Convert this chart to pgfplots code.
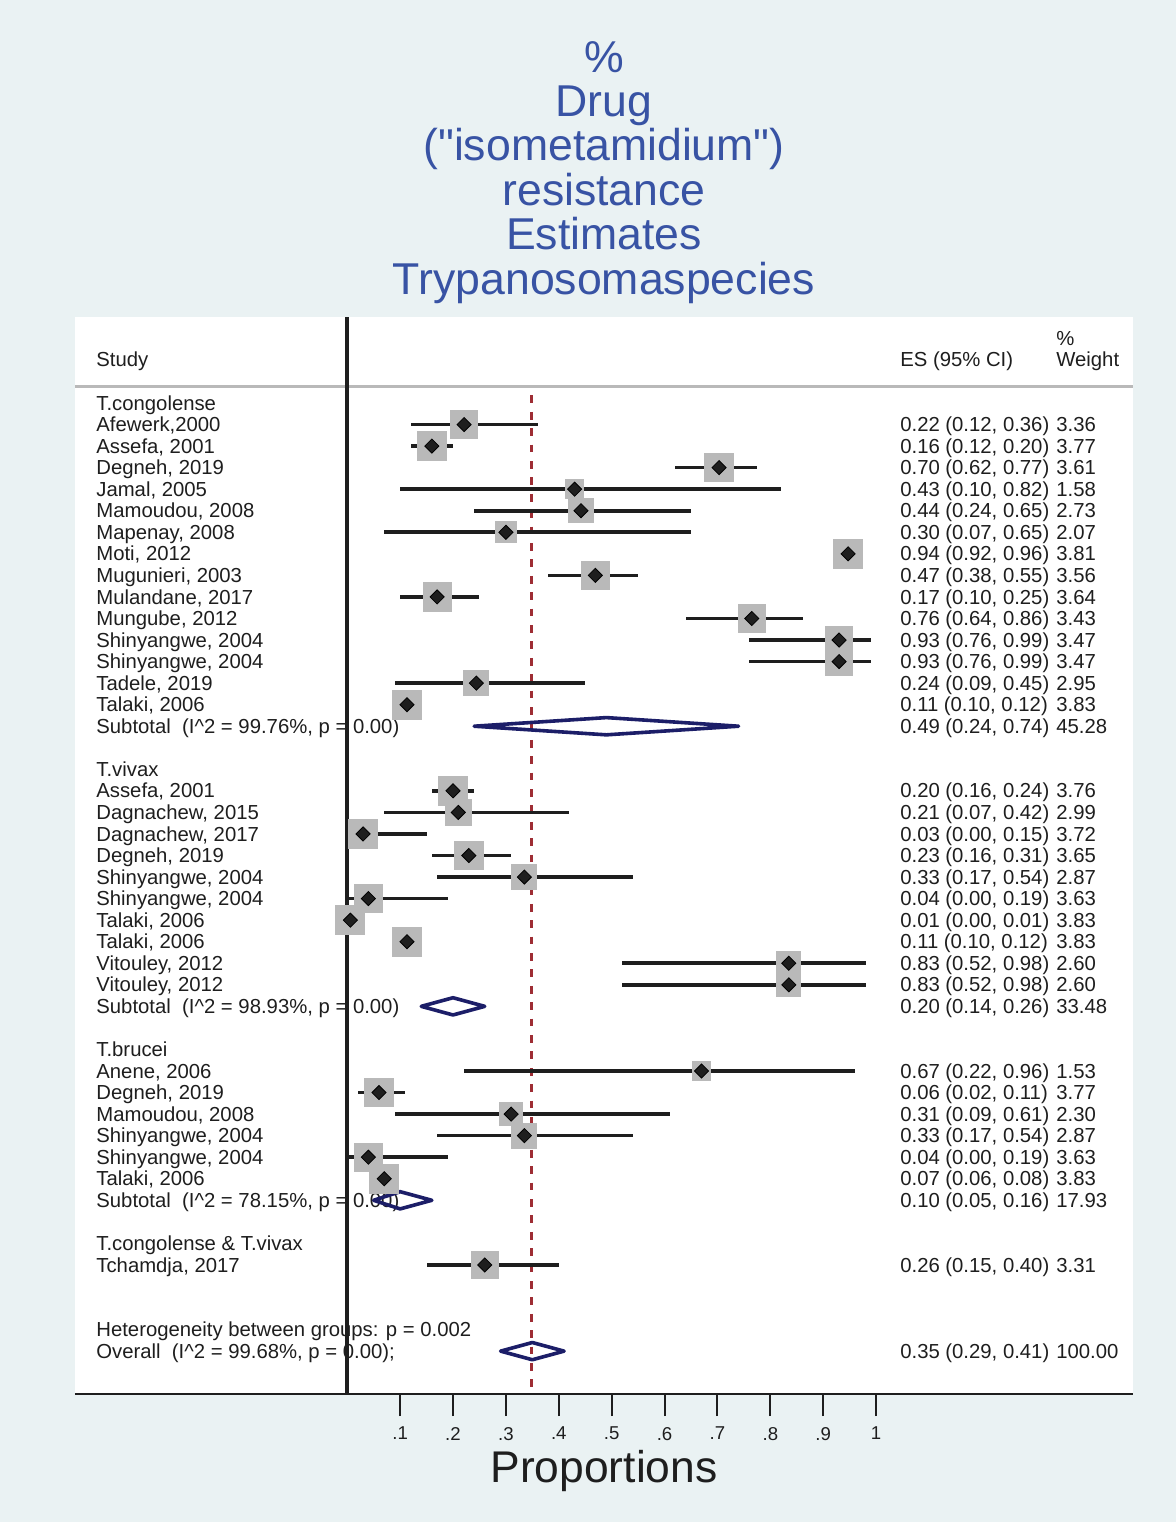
\documentclass[border=0pt]{standalone}
\usepackage{fontspec}
\setmainfont{Liberation Sans}
\usepackage{pgfplots}
\pgfplotsset{compat=1.18}
\usepackage{pgfplotstable}

\definecolor{bgc}{RGB}{234,242,243}
\definecolor{titleblue}{RGB}{56,83,164}
\definecolor{navyd}{RGB}{28,30,104}
\definecolor{redd}{RGB}{158,45,52}
\definecolor{boxg}{RGB}{185,185,185}
\definecolor{hdrg}{RGB}{185,185,185}
\definecolor{ink}{RGB}{30,30,30}

\newcommand\rowfont{\fontsize{10.15}{12}\selectfont}
\newcommand\tickfont{\fontsize{9.3}{10}\selectfont}
\newcommand\titlefont{\fontsize{22.3}{22.3}\selectfont\addfontfeature{Ligatures=TeXOff}}

\tikzset{lbl/.style={anchor=base west, inner sep=0pt, font=\rowfont, text=ink}}

\newcommand\row[4]{%
 \node[lbl] at (axis cs:-0.475,{-(#1)-0.33}) {#2};
 \node[lbl] at (axis cs:1.045,{-(#1)-0.33}) {#3};
 \node[lbl] at (axis cs:1.340,{-(#1)-0.33}) {#4};}

% study-level estimates: row position (negative), ES, lower CI, upper CI, % weight
\pgfplotstableread{
y es lo hi w
-1 0.221 0.12 0.36 3.36
-2 0.16 0.12 0.20 3.77
-3 0.703 0.62 0.775 3.61
-4 0.43 0.10 0.82 1.58
-5 0.442 0.24 0.65 2.73
-6 0.30 0.07 0.65 2.07
-7 0.947 0.92 0.96 3.81
-8 0.469 0.38 0.55 3.56
-9 0.17 0.10 0.25 3.64
-10 0.765 0.64 0.862 3.43
-11 0.93 0.76 0.99 3.47
-12 0.93 0.76 0.99 3.47
-13 0.244 0.09 0.45 2.95
-14 0.113 0.10 0.12 3.83
-18 0.20 0.16 0.24 3.76
-19 0.21 0.07 0.42 2.99
-20 0.03 0.00 0.15 3.72
-21 0.23 0.16 0.31 3.65
-22 0.335 0.17 0.54 2.87
-23 0.04 0.00 0.19 3.63
-24 0.006 0.00 0.01 3.83
-25 0.113 0.10 0.12 3.83
-26 0.835 0.52 0.98 2.60
-27 0.835 0.52 0.98 2.60
-31 0.67 0.22 0.96 1.53
-32 0.06 0.02 0.11 3.77
-33 0.31 0.09 0.61 2.30
-34 0.335 0.17 0.54 2.87
-35 0.04 0.00 0.19 3.63
-36 0.07 0.06 0.08 3.83
-40 0.26 0.15 0.40 3.31
}\studies

\begin{document}
\begin{tikzpicture}
\fill[bgc] (0,0) rectangle (588pt,-761pt);
\useasboundingbox (0,0) rectangle (588pt,-761pt);
\fill[white] (37.5pt,-158.5pt) rectangle (566.5pt,-697pt);

\node[anchor=base, font=\titlefont, text=titleblue, inner sep=0pt] at (302pt,-36pt) {\%};
\node[anchor=base, font=\titlefont, text=titleblue, inner sep=0pt] at (302pt,-58.2pt) {Drug};
\node[anchor=base, font=\titlefont, text=titleblue, inner sep=0pt] at (302pt,-80.4pt) {("isometamidium")};
\node[anchor=base, font=\titlefont, text=titleblue, inner sep=0pt] at (302pt,-102.6pt) {resistance};
\node[anchor=base, font=\titlefont, text=titleblue, inner sep=0pt] at (302pt,-124.8pt) {Estimates};
\node[anchor=base, font=\titlefont, text=titleblue, inner sep=0pt] at (302pt,-147pt) {Trypanosomaspecies};

\begin{axis}[
  at={(37.5pt,-697pt)}, anchor=south west,
  scale only axis, width=529pt, height=538.5pt,
  xmin=-0.5147, xmax=1.4857, ymin=-45.99, ymax=3.99,
  axis x line=bottom, axis y line=none,
  axis line style={-, draw=ink, line width=1.3pt},
  xtick={0.1,0.2,0.3,0.4,0.5,0.6,0.7,0.8,0.9,1},
  xticklabels={.1,.2,.3,.4,.5,.6,.7,.8,.9,1},
  tick align=outside, major tick length=11pt,
  tick style={draw=ink, line width=1pt},
  xticklabel style={font=\tickfont, text=ink, yshift=-2pt},
  ytick=\empty,
  clip=false,
  xlabel={Proportions},
  xlabel style={at={(axis description cs:0.5,0)}, anchor=base, yshift=-44pt, font=\fontsize{22.2}{22.2}\selectfont, text=ink},
]
% header
\row{-3}{}{}{\%}
\row{-2}{Study}{ES (95\% CI)}{Weight}
\addplot[draw=hdrg, line width=1.4pt] coordinates {(-0.5147,0.756) (1.4857,0.756)};

% T.congolense
\row{0}{T.congolense}{}{}
\row{1}{Afewerk,2000}{0.22 (0.12, 0.36)}{3.36}
\row{2}{Assefa, 2001}{0.16 (0.12, 0.20)}{3.77}
\row{3}{Degneh, 2019}{0.70 (0.62, 0.77)}{3.61}
\row{4}{Jamal, 2005}{0.43 (0.10, 0.82)}{1.58}
\row{5}{Mamoudou, 2008}{0.44 (0.24, 0.65)}{2.73}
\row{6}{Mapenay, 2008}{0.30 (0.07, 0.65)}{2.07}
\row{7}{Moti, 2012}{0.94 (0.92, 0.96)}{3.81}
\row{8}{Mugunieri, 2003}{0.47 (0.38, 0.55)}{3.56}
\row{9}{Mulandane, 2017}{0.17 (0.10, 0.25)}{3.64}
\row{10}{Mungube, 2012}{0.76 (0.64, 0.86)}{3.43}
\row{11}{Shinyangwe, 2004}{0.93 (0.76, 0.99)}{3.47}
\row{12}{Shinyangwe, 2004}{0.93 (0.76, 0.99)}{3.47}
\row{13}{Tadele, 2019}{0.24 (0.09, 0.45)}{2.95}
\row{14}{Talaki, 2006}{0.11 (0.10, 0.12)}{3.83}
\row{15}{Subtotal\ \ (I\textasciicircum2 = 99.76\%, p = 0.00)}{0.49 (0.24, 0.74)}{45.28}
% T.vivax
\row{17}{T.vivax}{}{}
\row{18}{Assefa, 2001}{0.20 (0.16, 0.24)}{3.76}
\row{19}{Dagnachew, 2015}{0.21 (0.07, 0.42)}{2.99}
\row{20}{Dagnachew, 2017}{0.03 (0.00, 0.15)}{3.72}
\row{21}{Degneh, 2019}{0.23 (0.16, 0.31)}{3.65}
\row{22}{Shinyangwe, 2004}{0.33 (0.17, 0.54)}{2.87}
\row{23}{Shinyangwe, 2004}{0.04 (0.00, 0.19)}{3.63}
\row{24}{Talaki, 2006}{0.01 (0.00, 0.01)}{3.83}
\row{25}{Talaki, 2006}{0.11 (0.10, 0.12)}{3.83}
\row{26}{Vitouley, 2012}{0.83 (0.52, 0.98)}{2.60}
\row{27}{Vitouley, 2012}{0.83 (0.52, 0.98)}{2.60}
\row{28}{Subtotal\ \ (I\textasciicircum2 = 98.93\%, p = 0.00)}{0.20 (0.14, 0.26)}{33.48}
% T.brucei
\row{30}{T.brucei}{}{}
\row{31}{Anene, 2006}{0.67 (0.22, 0.96)}{1.53}
\row{32}{Degneh, 2019}{0.06 (0.02, 0.11)}{3.77}
\row{33}{Mamoudou, 2008}{0.31 (0.09, 0.61)}{2.30}
\row{34}{Shinyangwe, 2004}{0.33 (0.17, 0.54)}{2.87}
\row{35}{Shinyangwe, 2004}{0.04 (0.00, 0.19)}{3.63}
\row{36}{Talaki, 2006}{0.07 (0.06, 0.08)}{3.83}
\row{37}{Subtotal\ \ (I\textasciicircum2 = 78.15\%, p = 0.00)}{0.10 (0.05, 0.16)}{17.93}
% mixed
\row{39}{T.congolense \& T.vivax}{}{}
\row{40}{Tchamdja, 2017}{0.26 (0.15, 0.40)}{3.31}
\row{43}{Heterogeneity between groups: p = 0.002}{}{}
\row{44}{Overall\ \ (I\textasciicircum2 = 99.68\%, p = 0.00);}{0.35 (0.29, 0.41)}{100.00}

% null line
\addplot[draw=ink, line width=2.1pt] coordinates {(0,-45.99) (0,3.99)};
% overall estimate line
\addplot[draw=redd, line width=1.4pt, dash pattern=on 3.9pt off 4.3pt] coordinates {(0.349,0.35) (0.349,-45.99)};

% weight boxes
\addplot[scatter, only marks, mark=square*, draw=boxg, fill=boxg,
  mark options={draw=boxg, fill=boxg, line width=0pt},
  scatter/use mapped color={draw=boxg, fill=boxg},
  visualization depends on={3.7*sqrt(\thisrow{w}) \as \msz},
  scatter/@pre marker code/.append style={/tikz/mark size=\msz}]
  table[x=es, y=y] {\studies};
% confidence intervals
\addplot[only marks, mark=none,
  error bars/.cd, x dir=both, x explicit,
  error mark=none, error bar style={draw=ink, line width=1.8pt}]
  table[x=es, y=y, x error plus expr=\thisrow{hi}-\thisrow{es}, x error minus expr=\thisrow{es}-\thisrow{lo}] {\studies};
% point estimates
\addplot[only marks, mark=square*, mark size=2.5pt, mark options={rotate=45, fill=ink, draw=none}]
  table[x=es, y=y] {\studies};

% pooled diamonds
\addplot[draw=navyd, line width=1.8pt, line join=round] coordinates {(0.24,-15) (0.49,-14.6) (0.74,-15) (0.49,-15.4)} --cycle;
\addplot[draw=navyd, line width=1.8pt, line join=round] coordinates {(0.14,-28) (0.20,-27.6) (0.26,-28) (0.20,-28.4)} --cycle;
\addplot[draw=navyd, line width=1.8pt, line join=round] coordinates {(0.05,-37) (0.10,-36.6) (0.16,-37) (0.10,-37.4)} --cycle;
\addplot[draw=navyd, line width=1.8pt, line join=round] coordinates {(0.29,-44) (0.35,-43.6) (0.41,-44) (0.35,-44.4)} --cycle;
\end{axis}
\end{tikzpicture}
\end{document}
